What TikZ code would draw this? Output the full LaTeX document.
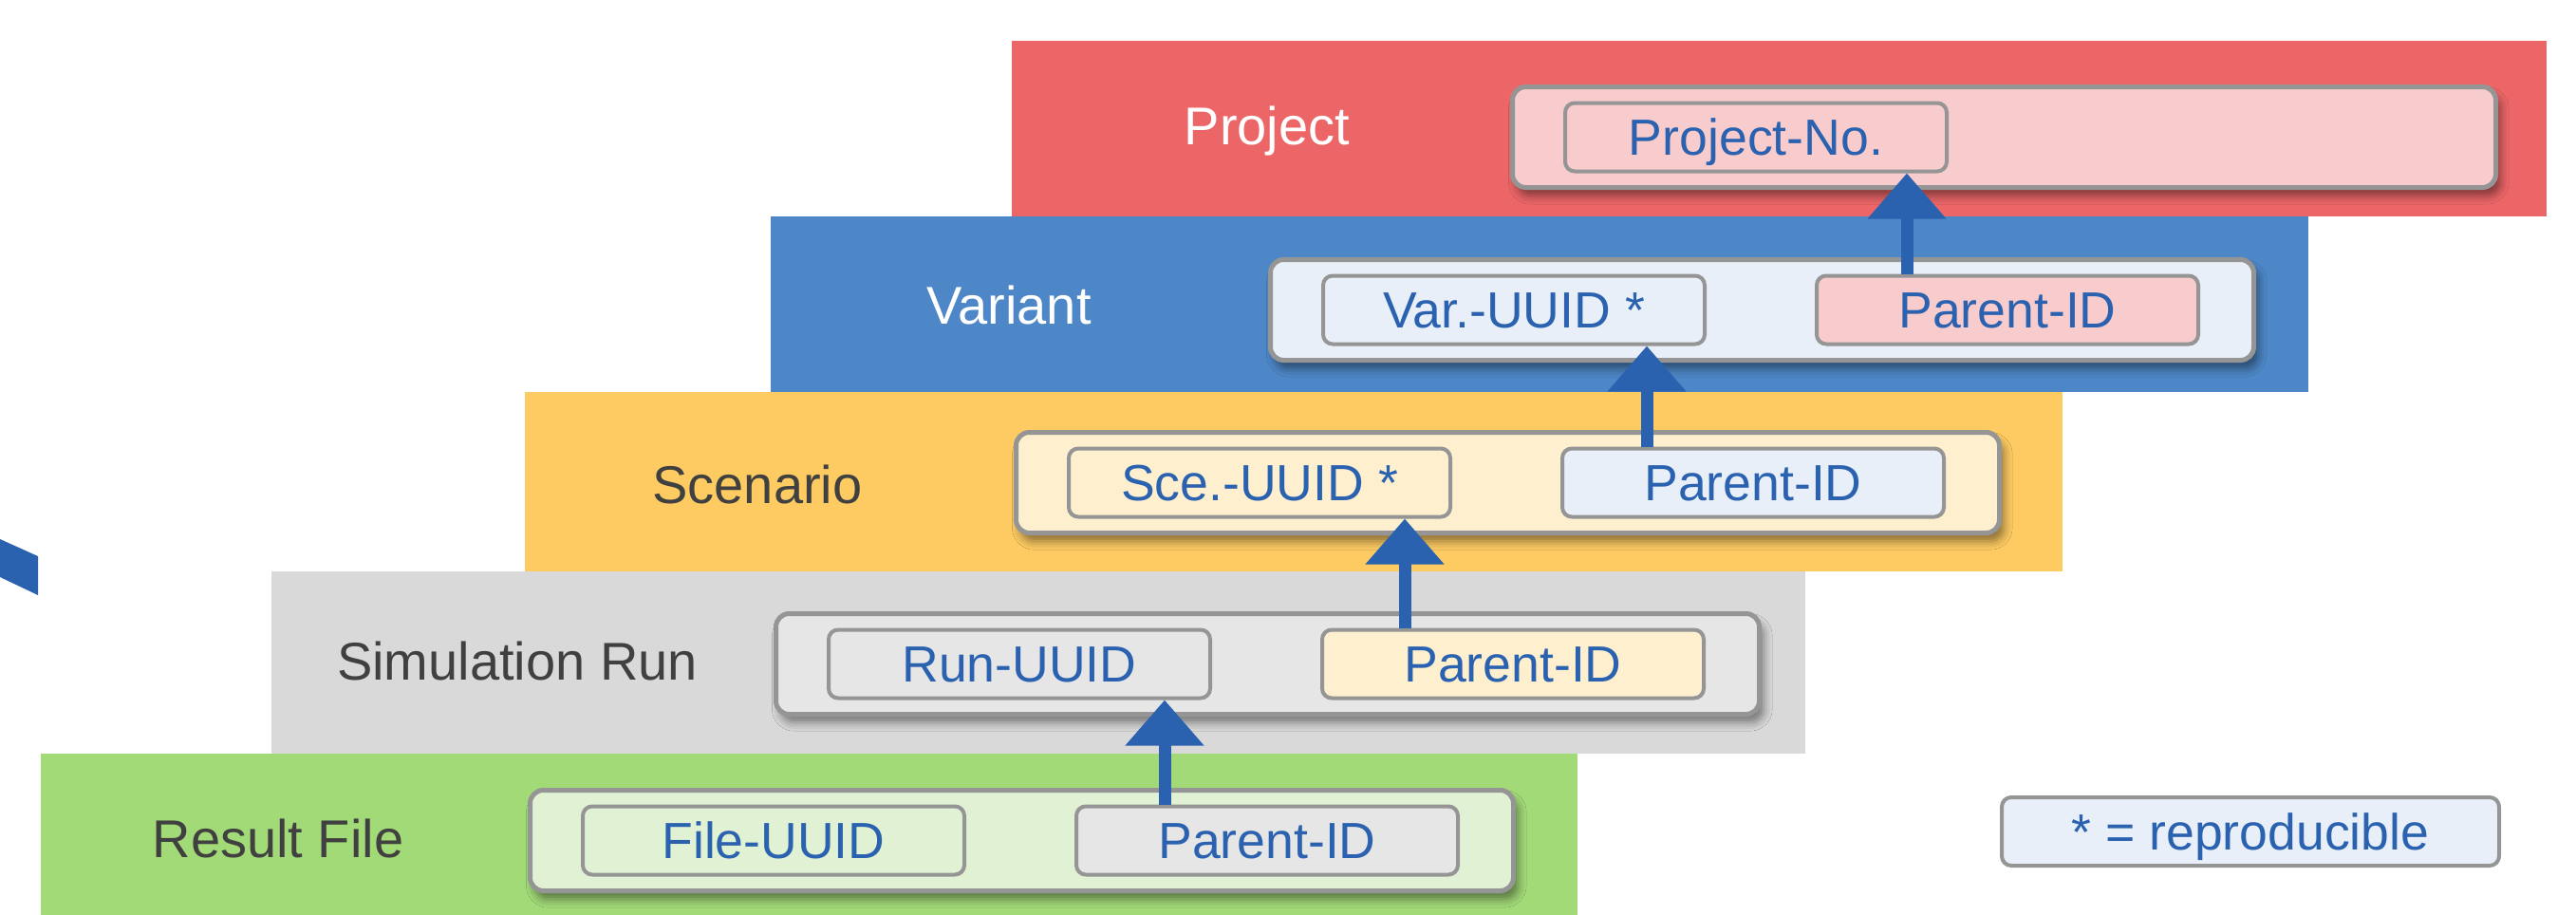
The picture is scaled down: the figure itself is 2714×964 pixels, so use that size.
\documentclass[tikz,border=0pt]{standalone}
\usepackage{fontspec}
\setmainfont{Liberation Sans}
\usetikzlibrary{arrows.meta,shadows.blur}

% layer band colours
\definecolor{bandred}{HTML}{EC6668}
\definecolor{bandblue}{HTML}{4E87C7}
\definecolor{bandyellow}{HTML}{FDCB62}
\definecolor{bandgrey}{HTML}{D9D9D9}
\definecolor{bandgreen}{HTML}{A3DA78}
% light fills of the record boxes
\definecolor{fillpink}{HTML}{F8CBCC}
\definecolor{fillblue}{HTML}{E9EFF8}
\definecolor{fillyellow}{HTML}{FEEFCF}
\definecolor{fillgrey}{HTML}{E6E6E6}
\definecolor{fillgreen}{HTML}{E1F2D4}
% strokes and text
\definecolor{edgegrey}{HTML}{959595}
\definecolor{idblue}{HTML}{2B62B0}
\definecolor{labelgrey}{HTML}{404040}

\begin{document}
\begin{tikzpicture}[x=0.25pt,y=-0.25pt,
  record/.style={draw=edgegrey, line width=1.25pt, rounded corners=3.5pt,
    minimum width=259pt, minimum height=26.5pt, inner sep=0pt, anchor=north west,
    blur shadow={shadow xshift=1.2pt, shadow yshift=-2.2pt,
      shadow blur radius=2.2pt, shadow opacity=45}},
  idbox/.style={draw=edgegrey, line width=1pt, rounded corners=2.5pt,
    minimum width=100.5pt, minimum height=18pt, inner sep=0pt,
    text height=9.6pt, text depth=0pt,
    text=idblue, font=\fontsize{13.4}{16}\selectfont},
  layerlabel/.style={font=\fontsize{14}{17}\selectfont, inner sep=0pt, anchor=base},
  link/.style={draw=idblue, line width=3.25pt,
    -{Triangle[width=20pt,length=12pt]}}
]
\useasboundingbox (0,0) rectangle (2714,964);

% stepped layer bands
\fill[bandred]    (1066,43)  rectangle (2683,228);
\fill[bandblue]   (812,228)  rectangle (2432,413);
\fill[bandyellow] (553,413)  rectangle (2173,602);
\fill[bandgrey]   (286,602)  rectangle (1902,794);
\fill[bandgreen]  (43,794)   rectangle (1662,964);

% sliver of a blue shape at the left edge
\fill[idblue] (0,568) -- (40,586) -- (40,627) -- (0,608) -- cycle;

% layer names
\node[layerlabel, text=white]      (lproj) at (1335,152) {Project};
\node[layerlabel, text=white]      (lvar)  at (1063,341) {Variant};
\node[layerlabel, text=labelgrey]  (lsce)  at (798,530)  {Scenario};
\node[layerlabel, text=labelgrey]  (lrun)  at (545,716)  {Simulation Run};
\node[layerlabel, text=labelgrey]  (lfile) at (293,903)  {Result File};

% record containers
\node[record, fill=fillpink]   (rproj) at (1591,89)  {};
\node[record, fill=fillblue]   (rvar)  at (1336,271) {};
\node[record, fill=fillyellow] (rsce)  at (1068,453) {};
\node[record, fill=fillgrey]   (rrun)  at (815,644)  {};
\node[record, fill=fillgreen]  (rfile) at (556,830)  {};

% identifier fields
\node[idbox, fill=fillpink,   anchor=west] (projno) at ([xshift=14pt]rproj.west) {Project-No.};

\node[idbox, fill=fillblue,   anchor=west] (varid)  at ([xshift=14pt]rvar.west)  {Var.-UUID *};
\node[idbox, fill=fillpink,   anchor=west] (varpar) at ([xshift=144pt]rvar.west) {Parent-ID};

\node[idbox, fill=fillyellow, anchor=west] (sceid)  at ([xshift=14pt]rsce.west)  {Sce.-UUID *};
\node[idbox, fill=fillblue,   anchor=west] (scepar) at ([xshift=144pt]rsce.west) {Parent-ID};

\node[idbox, fill=fillgrey,   anchor=west] (runid)  at ([xshift=14pt]rrun.west)  {Run-UUID};
\node[idbox, fill=fillyellow, anchor=west] (runpar) at ([xshift=144pt]rrun.west) {Parent-ID};

\node[idbox, fill=fillgreen,  anchor=west] (fileid)  at ([xshift=14pt]rfile.west)  {File-UUID};
\node[idbox, fill=fillgrey,   anchor=west] (filepar) at ([xshift=144pt]rfile.west) {Parent-ID};

% legend
\node[idbox, fill=fillblue, minimum width=131pt, anchor=north west] (legend) at (2107,838) {* = reproducible};

% parent links
\coordinate (xa) at (1227,0);
\coordinate (xb) at (1480,0);
\coordinate (xc) at (1735,0);
\coordinate (xd) at (2009,0);
\draw[link] (filepar.north -| xa) -- (runid.south -| xa);
\draw[link] (runpar.north -| xb)  -- (sceid.south -| xb);
\draw[link] (scepar.north -| xc)  -- (varid.south -| xc);
\draw[link] (varpar.north -| xd)  -- (projno.south -| xd);
\end{tikzpicture}
\end{document}
